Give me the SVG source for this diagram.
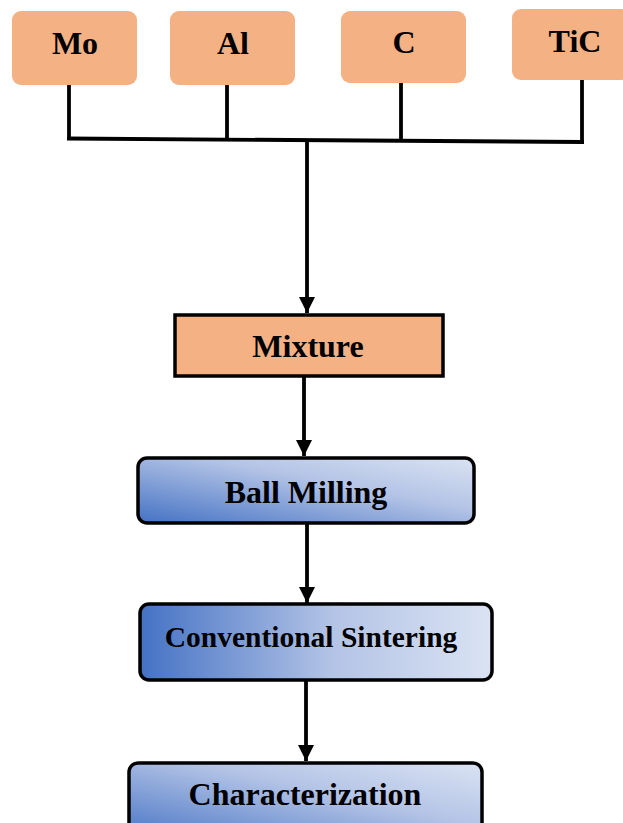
<svg xmlns="http://www.w3.org/2000/svg" width="623" height="823" viewBox="0 0 623 823">
<style>
.src{fill:#F4B183;}
.lbl{font-family:"Liberation Serif","Times New Roman",serif;font-weight:bold;font-size:32px;fill:#000;text-anchor:middle;}
.box{stroke:#000;stroke-width:3.5;}
.ln{stroke:#000;stroke-width:3.8;fill:none;}
</style>
<defs>
<linearGradient id="gDiag" x1="0" y1="1" x2="1" y2="0">
<stop offset="0" stop-color="#4472C4"/>
<stop offset="0.6" stop-color="#B4C4E6"/>
<stop offset="1" stop-color="#DAE3F3"/>
</linearGradient>
<linearGradient id="gHor" x1="0" y1="0" x2="1" y2="0">
<stop offset="0" stop-color="#4472C4"/>
<stop offset="0.55" stop-color="#B4C4E6"/>
<stop offset="1" stop-color="#DAE3F3"/>
</linearGradient>
<marker id="arr" viewBox="0 0 10 10" refX="10" refY="5" markerWidth="4.2" markerHeight="4.2" orient="auto" markerUnits="strokeWidth">
<path d="M0,0 L10,5 L0,10 z" fill="#000"/>
</marker>
</defs>

<g id="connectors">
<path class="ln" d="M69,84 V139"/>
<path class="ln" d="M227,85 V139"/>
<path class="ln" d="M401,83 V140"/>
<path class="ln" d="M582,80 V143"/>
<path class="ln" d="M67,138.5 L584,142"/>
<path class="ln" d="M307,140 V313" marker-end="url(#arr)"/>
<path class="ln" d="M304,376 V456" marker-end="url(#arr)"/>
<path class="ln" d="M307,523 V603" marker-end="url(#arr)"/>
<path class="ln" d="M306,680 V761" marker-end="url(#arr)"/>
</g>

<g id="mo">
<rect class="src" x="12" y="11" width="125" height="74" rx="9"/>
<text class="lbl" x="75" y="54">Mo</text>
</g>
<g id="al">
<rect class="src" x="170" y="11" width="125" height="74" rx="9"/>
<text class="lbl" x="233" y="54">Al</text>
</g>
<g id="c">
<rect class="src" x="341" y="11" width="125" height="72" rx="9"/>
<text class="lbl" x="404" y="53">C</text>
</g>
<g id="tic">
<rect class="src" x="512" y="9" width="118" height="71" rx="9"/>
<text class="lbl" x="575" y="52">TiC</text>
</g>

<g id="mixture">
<rect class="box" x="175" y="315" width="268" height="61" fill="#F4B183"/>
<text class="lbl" x="308" y="357">Mixture</text>
</g>
<g id="ballmilling">
<rect class="box" x="138" y="458" width="336" height="65" rx="9" fill="url(#gDiag)"/>
<text class="lbl" x="306" y="503">Ball Milling</text>
</g>
<g id="sintering">
<rect class="box" x="140" y="604" width="352" height="76" rx="9" fill="url(#gHor)"/>
<text class="lbl" x="311" y="647" style="font-size:29.5px">Conventional Sintering</text>
</g>
<g id="characterization">
<rect class="box" x="129" y="763" width="353" height="80" rx="9" fill="url(#gDiag)"/>
<text class="lbl" x="305" y="805">Characterization</text>
</g>
</svg>
